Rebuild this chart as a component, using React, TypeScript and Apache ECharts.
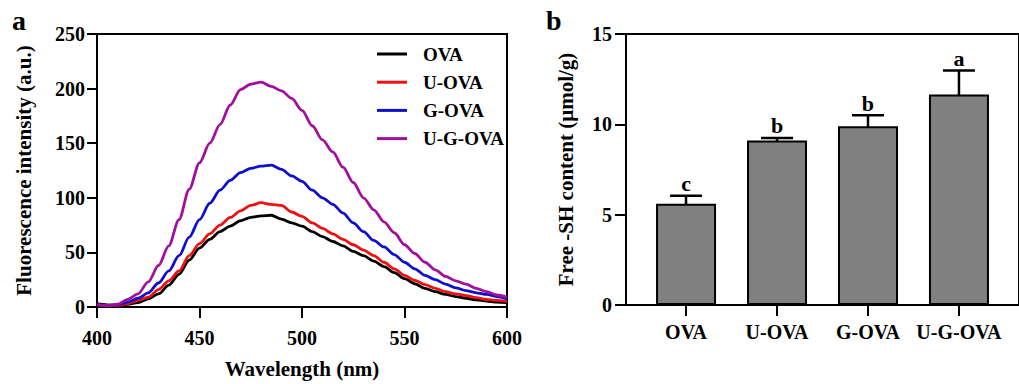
import React, { useEffect, useRef } from 'react';
import * as echarts from 'echarts';

// ---------- Panel a: fluorescence spectra ----------
const wavelengths = [
  400, 405, 410, 415, 420, 425, 430, 435, 440, 445, 450, 455, 460, 465, 470, 475, 480, 485, 490, 495,
  500, 505, 510, 515, 520, 525, 530, 535, 540, 545, 550, 555, 560, 565, 570, 575, 580, 585, 590, 595, 600,
];
const ovaSpectrum = [
  3, 2, 1.5, 2.5, 4, 7.5, 12, 20, 30, 43, 54, 62, 69, 74, 79, 82, 83.5, 84, 80.5, 77,
  74, 69, 64.5, 60, 56, 51, 47, 42, 37, 31.5, 26, 21.3, 17, 14, 11.5, 9.5, 8, 6.5, 5.5, 4.5, 4,
];
const uOvaSpectrum = [
  2, 1, 1.5, 3, 6, 9, 16, 24, 33, 47, 58, 67, 75, 82, 88, 93, 95.5, 94, 93, 87,
  83, 77, 72, 67, 62, 57, 52, 47, 41, 35, 29, 24.3, 20.5, 17, 14, 12, 10.5, 8.5, 7, 6, 5,
];
const gOvaSpectrum = [
  2, 1.5, 2, 4.5, 8, 13, 22, 33, 47, 64, 80, 95, 107, 116, 123, 127, 129, 130, 126, 120,
  115, 107, 100, 94, 86, 77, 69, 61, 55, 48, 41, 35, 29, 25, 21, 17.5, 15, 13, 11.5, 9.5, 7.5,
];
const ugOvaSpectrum = [
  2.5, 1.5, 2.5, 7, 12, 23, 38, 56, 80, 108, 132, 150, 167, 185, 199, 204, 206, 202, 198, 191,
  180, 166, 153, 142, 128, 114, 100, 89, 78, 68, 57, 49, 41, 34, 28, 24, 21, 17, 14, 11, 9,
];
const spectrumNames = ['OVA', 'U-OVA', 'G-OVA', 'U-G-OVA'];
const spectrumColors = ['#000000', '#ee1111', '#1010cc', '#a0109c'];
const spectra = [ovaSpectrum, uOvaSpectrum, gOvaSpectrum, ugOvaSpectrum];

// ---------- Panel b: free SH content ----------
const barCategories = ['OVA', 'U-OVA', 'G-OVA', 'U-G-OVA'];
const freeSH = [5.6, 9.1, 9.9, 11.65];
const freeSHErr = [0.45, 0.15, 0.6, 1.33];
const sigLetters = ['c', 'b', 'b', 'a'];

const FONT = "'Liberation Serif', 'Times New Roman', serif";

export default function App() {
  const ref = useRef<HTMLDivElement>(null);

  useEffect(() => {
    if (!ref.current) return;
    const chart = echarts.init(ref.current, null, { renderer: 'svg' });

    const axisCommon = {
      axisLine: { show: true, onZero: false, lineStyle: { color: '#000', width: 2 } },
      axisTick: { show: true, length: 10, lineStyle: { color: '#000', width: 2 } },
      splitLine: { show: false },
      nameLocation: 'middle' as const,
      nameTextStyle: { fontFamily: FONT, fontWeight: 'bold' as const, fontSize: 21, color: '#000' },
    };
    const labelCommon = { fontFamily: FONT, fontWeight: 'bold' as const, fontSize: 20, color: '#000' };

    const lineSeries = spectra.map((arr, k) => ({
      type: 'line',
      name: spectrumNames[k],
      xAxisIndex: 0,
      yAxisIndex: 0,
      data: wavelengths.map((w, i) => [w, arr[i]]),
      symbol: 'none',
      smooth: 0.3,
      smoothMonotone: 'x',
      lineStyle: { color: spectrumColors[k], width: 2.8 },
      itemStyle: { color: spectrumColors[k] },
    }));

    chart.setOption({
      animation: false,
      backgroundColor: '#fff',
      grid: [
        { left: 97, top: 34, width: 410, height: 274, show: true, borderColor: '#000', borderWidth: 2, backgroundColor: 'transparent' },
        { left: 626, top: 34, width: 405, height: 271, show: true, borderColor: '#000', borderWidth: 2, backgroundColor: 'transparent' },
      ],
      legend: {
        data: spectrumNames,
        orient: 'vertical',
        left: 372,
        top: 39,
        icon: 'rect',
        itemWidth: 30,
        itemHeight: 3,
        itemGap: 8.2,
        selectedMode: false,
        textStyle: { fontFamily: FONT, fontWeight: 'bold', fontSize: 19, color: '#000', padding: [0, 0, 0, 11], lineHeight: 20 },
      },
      xAxis: [
        {
          ...axisCommon,
          type: 'value',
          gridIndex: 0,
          min: 400,
          max: 600,
          interval: 50,
          name: 'Wavelength (nm)',
          nameGap: 51,
          axisTick: { ...axisCommon.axisTick, length: 11 },
          axisLabel: { ...labelCommon, margin: 21 },
        },
        {
          ...axisCommon,
          type: 'value',
          gridIndex: 1,
          min: -0.66,
          max: 3.66,
          axisTick: { ...axisCommon.axisTick, length: 11, customValues: [0, 1, 2, 3] },
          axisLabel: {
            ...labelCommon,
            margin: 17,
            customValues: [0, 1, 2, 3],
            formatter: (v: number) => barCategories[Math.round(v)] ?? '',
          },
        },
      ],
      yAxis: [
        {
          ...axisCommon,
          type: 'value',
          gridIndex: 0,
          min: 0,
          max: 250,
          interval: 50,
          name: 'Fluorescence intensity (a.u.)',
          nameGap: 63,
          axisLabel: { ...labelCommon, margin: 12 },
        },
        {
          ...axisCommon,
          type: 'value',
          gridIndex: 1,
          min: 0,
          max: 15,
          interval: 5,
          name: 'Free -SH content (μmol/g)',
          nameGap: 50,
          axisTick: { ...axisCommon.axisTick, length: 11 },
          axisLabel: { ...labelCommon, margin: 14 },
        },
      ],
      series: [
        ...lineSeries,
        {
          type: 'bar',
          name: 'Free-SH',
          xAxisIndex: 1,
          yAxisIndex: 1,
          barWidth: 60,
          data: barCategories.map((_, i) => [i, freeSH[i]]),
          itemStyle: { color: '#808080', borderColor: '#000', borderWidth: 2 },
        },
        {
          type: 'custom',
          name: 'err',
          xAxisIndex: 1,
          yAxisIndex: 1,
          clip: false,
          encode: { x: 0, y: 1 },
          data: barCategories.map((_, i) => [i, freeSH[i], freeSHErr[i]]),
          renderItem: (params: any, api: any) => {
            const i = api.value(0);
            const v = api.value(1);
            const e = api.value(2);
            const top = api.coord([i, v + e]);
            const bot = api.coord([i, v - e]);
            const hw = 16;
            const ls = { stroke: '#000', lineWidth: 2.5 };
            return {
              type: 'group',
              children: [
                { type: 'line', shape: { x1: top[0], y1: top[1], x2: bot[0], y2: bot[1] }, style: ls },
                { type: 'line', shape: { x1: top[0] - hw, y1: top[1], x2: top[0] + hw, y2: top[1] }, style: ls },
                { type: 'line', shape: { x1: bot[0] - hw, y1: bot[1], x2: bot[0] + hw, y2: bot[1] }, style: ls },
                {
                  type: 'text',
                  x: top[0],
                  y: top[1] - 1,
                  style: {
                    text: sigLetters[params.dataIndex],
                    fontFamily: FONT,
                    fontWeight: 'bold',
                    fontSize: 22,
                    fill: '#000',
                    textAlign: 'center',
                    textVerticalAlign: 'bottom',
                  },
                },
              ],
            };
          },
        },
      ],
      graphic: [
        {
          type: 'text',
          left: 12,
          top: 6,
          style: { text: 'a', fontFamily: FONT, fontWeight: 'bold', fontSize: 28, fill: '#000' },
        },
        {
          type: 'text',
          left: 546,
          top: 6,
          style: { text: 'b', fontFamily: FONT, fontWeight: 'bold', fontSize: 28, fill: '#000' },
        },
      ],
    });

    return () => chart.dispose();
  }, []);

  return <div ref={ref} style={{ position: 'absolute', left: 0, top: 0, width: 1019, height: 384 }} />;
}
